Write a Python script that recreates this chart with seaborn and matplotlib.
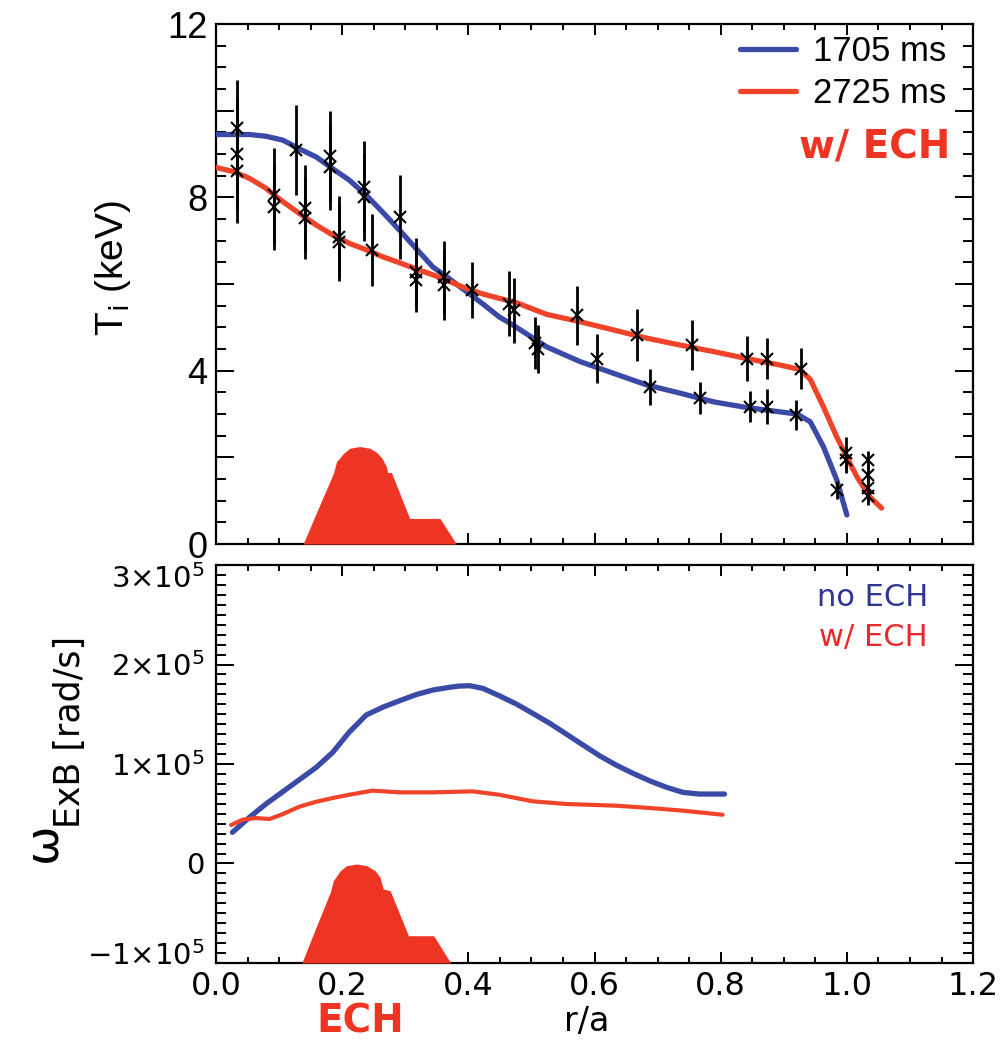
import numpy as np
import pandas as pd
import matplotlib
matplotlib.use("Agg")
import matplotlib.pyplot as plt
import seaborn as sns
from matplotlib.ticker import MultipleLocator, FuncFormatter
from matplotlib.lines import Line2D
from matplotlib.transforms import ScaledTranslation

# ---------------- data ----------------
# Ti profiles (keV) vs r/a
blue_r = [0.0, 0.053, 0.079, 0.106, 0.132, 0.159, 0.185, 0.211, 0.238, 0.264, 0.291, 0.317,
          0.344, 0.37, 0.391, 0.423, 0.449, 0.471, 0.524, 0.577, 0.63, 0.683, 0.736, 0.789,
          0.841, 0.894, 0.921, 0.942, 0.963, 0.984, 1.0]
blue_ti = [9.45, 9.45, 9.41, 9.32, 9.12, 8.93, 8.66, 8.40, 8.05, 7.66, 7.24, 6.82,
           6.39, 6.12, 5.89, 5.54, 5.24, 5.05, 4.55, 4.21, 3.94, 3.67, 3.48, 3.28,
           3.15, 3.05, 3.0, 2.82, 2.24, 1.48, 0.67]
red_r = [0.0, 0.026, 0.053, 0.079, 0.106, 0.132, 0.159, 0.185, 0.211, 0.238, 0.264, 0.291,
         0.317, 0.344, 0.37, 0.396, 0.423, 0.449, 0.476, 0.524, 0.577, 0.63, 0.683, 0.736,
         0.789, 0.841, 0.894, 0.925, 0.942, 0.963, 0.984, 1.0, 1.016, 1.037, 1.055]
red_ti = [8.69, 8.6, 8.44, 8.21, 7.9, 7.63, 7.36, 7.13, 6.94, 6.79, 6.63, 6.49,
          6.35, 6.21, 6.06, 5.9, 5.77, 5.67, 5.57, 5.3, 5.13, 4.94, 4.75, 4.59,
          4.44, 4.28, 4.13, 4.03, 3.8, 3.16, 2.47, 2.0, 1.55, 1.08, 0.83]
series_labels = ["1705 ms", "2725 ms"]

# measured Ti points with error bars
pt_r = [0.033, 0.033, 0.033, 0.092, 0.092, 0.126, 0.141, 0.141, 0.180, 0.180,
        0.195, 0.195, 0.234, 0.234, 0.248, 0.291, 0.317, 0.317, 0.361, 0.361,
        0.405, 0.465, 0.472, 0.505, 0.510, 0.572, 0.604, 0.667, 0.688, 0.754,
        0.767, 0.841, 0.847, 0.873, 0.873, 0.927, 0.920, 0.984, 0.999, 0.999,
        1.034, 1.034, 1.034, 1.034]
pt_ti = [9.6, 9.0, 8.6, 8.05, 7.78, 9.09, 7.75, 7.52, 8.95, 8.71,
         7.09, 6.98, 8.25, 8.0, 6.78, 7.55, 6.28, 6.1, 6.17, 5.98,
         5.86, 5.55, 5.4, 4.65, 4.5, 5.28, 4.28, 4.82, 3.63, 4.59,
         3.36, 4.28, 3.17, 4.28, 3.17, 4.05, 2.98, 1.25, 2.1, 1.95,
         1.95, 1.6, 1.3, 1.1]
pt_err = [1.1, 1.3, 1.2, 1.1, 1.0, 1.03, 1.0, 0.95, 1.05, 1.0,
          0.93, 0.9, 1.05, 1.0, 0.83, 0.97, 0.78, 0.75, 0.83, 0.8,
          0.65, 0.75, 0.75, 0.6, 0.55, 0.68, 0.56, 0.6, 0.42, 0.58,
          0.37, 0.52, 0.35, 0.48, 0.4, 0.48, 0.35, 0.2, 0.38, 0.3,
          0.2, 0.2, 0.25, 0.2]

# ECH deposition shape (top panel, keV units)
ech_top_r = [0.138, 0.162, 0.186, 0.191, 0.202, 0.212, 0.228, 0.244, 0.255, 0.263,
             0.270, 0.272, 0.278, 0.307, 0.355, 0.381]
ech_top_v = [0.0, 0.82, 1.63, 1.90, 2.09, 2.21, 2.25, 2.21, 2.11, 1.98,
             1.79, 1.65, 1.65, 0.59, 0.59, 0.0]
# ECH deposition shape (bottom panel, rad/s units)
ech_bot_r = [0.136, 0.158, 0.181, 0.186, 0.197, 0.207, 0.223, 0.239, 0.252, 0.260,
             0.265, 0.276, 0.305, 0.345, 0.372]
ech_bot_v = [-1.0e5, -0.65e5, -0.29e5, -0.173e5, -0.072e5, -0.022e5, -0.005e5, -0.022e5,
             -0.072e5, -0.139e5, -0.256e5, -0.273e5, -0.726e5, -0.726e5, -1.0e5]

# omega_ExB profiles (rad/s)
w_blue_r = [0.026, 0.053, 0.079, 0.106, 0.132, 0.159, 0.185, 0.211, 0.238, 0.264, 0.291,
            0.317, 0.344, 0.37, 0.385, 0.402, 0.423, 0.449, 0.476, 0.502, 0.529, 0.555, 0.581,
            0.608, 0.634, 0.661, 0.687, 0.714, 0.74, 0.766, 0.806]
w_blue = [31.3e3, 46.4e3, 59.8e3, 72.2e3, 84.2e3, 96.7e3, 111.7e3, 131.9e3, 149.2e3, 157e3,
          163.6e3, 169.7e3, 174.4e3, 177.1e3, 178.3e3, 178.7e3, 176e3, 168.6e3, 160.3e3, 150.9e3,
          140.9e3, 130.2e3, 119.4e3, 108.3e3, 99e3, 90.6e3, 83.2e3, 76.6e3, 71.5e3, 69.8e3, 69.8e3]
w_red_r = [0.024, 0.042, 0.063, 0.085, 0.106, 0.132, 0.159, 0.185, 0.211, 0.248, 0.291,
           0.344, 0.407, 0.449, 0.502, 0.555, 0.634, 0.687, 0.74, 0.803]
w_red = [38.7e3, 44e3, 45.7e3, 44.7e3, 49.7e3, 57.1e3, 62.1e3, 65.8e3, 69.1e3, 73.2e3, 71.5e3,
         71.5e3, 72.5e3, 69.1e3, 62.5e3, 59.8e3, 58.1e3, 55.8e3, 53.1e3, 49e3]
w_labels = ["no ECH", "w/ ECH"]

BLUE = "#3a4aa6"
RED = "#f0442a"
ECHRED = "#ee3524"

# ---------------- style ----------------
sns.set_theme(style="ticks")
plt.rcParams["font.family"] = ["Liberation Sans", "DejaVu Sans"]
plt.rcParams["mathtext.fontset"] = "dejavusans"
plt.rcParams["axes.linewidth"] = 1.6
plt.rcParams["axes.edgecolor"] = "black"
for k in ["text.color", "axes.labelcolor", "xtick.color", "ytick.color",
          "xtick.labelcolor", "ytick.labelcolor"]:
    plt.rcParams[k] = "black"

fig = plt.figure(figsize=(10.02, 10.44), dpi=100)
ax1 = fig.add_axes([0.2156, 0.4789, 0.7555, 0.4981])
ax2 = fig.add_axes([0.2156, 0.0776, 0.7555, 0.3812])

# ---------------- top panel ----------------
df_top = pd.concat([
    pd.DataFrame({"r": blue_r, "Ti": blue_ti, "t": series_labels[0]}),
    pd.DataFrame({"r": red_r, "Ti": red_ti, "t": series_labels[1]}),
])
sns.lineplot(data=df_top, x="r", y="Ti", hue="t", palette=[BLUE, RED], sort=False,
             estimator=None, lw=3.8, ax=ax1, legend=False, zorder=3)
for ln in ax1.lines:
    ln.set_solid_joinstyle("round")
ax1.errorbar(pt_r, pt_ti, yerr=pt_err, fmt="x", color="black", ms=8, mew=1.5,
             elinewidth=2.0, capsize=0, zorder=4)
ax1.fill_between(ech_top_r, 0, ech_top_v, color=ECHRED, lw=0, zorder=5, clip_on=False)

ax1.set_xlim(0, 1.2)
ax1.set_ylim(0, 12)
ax1.xaxis.set_major_locator(MultipleLocator(0.2))
ax1.xaxis.set_minor_locator(MultipleLocator(0.05))
ax1.yaxis.set_major_locator(MultipleLocator(2))
ax1.yaxis.set_minor_locator(MultipleLocator(0.5))
ax1.yaxis.set_major_formatter(FuncFormatter(lambda v, p: f"{int(round(v))}" if round(v) % 4 == 0 else ""))
ax1.tick_params(axis="both", which="both", direction="in", top=True, right=True, width=1.4, color="black")
ax1.tick_params(axis="x", which="major", length=8, labelbottom=False)
ax1.tick_params(axis="x", which="minor", length=4)
ax1.tick_params(axis="y", which="major", length=13, labelsize=26, pad=6)
ax1.tick_params(axis="y", which="minor", length=7)
ax1.set_xlabel("")
ax1.set_ylabel("T$_\\mathrm{i}$ (keV)", fontsize=28, family=["Liberation Sans", "DejaVu Sans"])
ax1.yaxis.set_label_coords(-0.11, 0.53)

handles = [Line2D([], [], color=BLUE, lw=3.8), Line2D([], [], color=RED, lw=3.8)]
ax1.legend(handles, series_labels, loc="upper right", bbox_to_anchor=(0.965, 0.978),
           frameon=False, fontsize=25, handlelength=1.6, handletextpad=0.5,
           labelspacing=0.25, borderpad=0, borderaxespad=0)
ax1.text(0.97, 0.762, "w/ ECH", transform=ax1.transAxes, ha="right", va="center",
         color=ECHRED, fontsize=28, fontweight="bold", family="DejaVu Sans")

# ---------------- bottom panel ----------------
df_bot = pd.concat([
    pd.DataFrame({"r": w_blue_r, "w": w_blue, "c": w_labels[0]}),
    pd.DataFrame({"r": w_red_r, "w": w_red, "c": w_labels[1]}),
])
sns.lineplot(data=df_bot, x="r", y="w", hue="c", palette=[BLUE, RED], sort=False,
             estimator=None, ax=ax2, legend=False, zorder=3)
ax2.lines[0].set_linewidth(3.8)
ax2.lines[1].set_linewidth(3.0)
for ln in ax2.lines:
    ln.set_solid_joinstyle("round")
ax2.fill_between(ech_bot_r, -1e5, ech_bot_v, color=ECHRED, lw=0, zorder=5, clip_on=False)

def wfmt(v, p):
    k = int(round(v / 1e5))
    if k == 0:
        return "0"
    if k < 0:
        return r"$-%d{\times}10^{5}$" % (-k)
    return r"$%d{\times}10^{5}$" % k

ax2.set_xlim(0, 1.2)
ax2.set_ylim(-1e5, 3e5)
ax2.xaxis.set_major_locator(MultipleLocator(0.2))
ax2.xaxis.set_minor_locator(MultipleLocator(0.05))
ax2.xaxis.set_major_formatter(FuncFormatter(lambda v, p: f"{v:.1f}"))
ax2.yaxis.set_major_locator(MultipleLocator(1e5))
ax2.yaxis.set_minor_locator(MultipleLocator(1e4))
ax2.yaxis.set_major_formatter(FuncFormatter(wfmt))
ax2.tick_params(axis="both", which="both", direction="in", top=True, right=True, width=1.4, color="black")
ax2.tick_params(axis="x", which="major", length=8, labelsize=23, pad=6)
ax2.tick_params(axis="x", which="minor", length=4)
ax2.tick_params(axis="y", which="major", length=13, labelsize=21, pad=8)
ax2.tick_params(axis="y", which="minor", length=7)
for lab in ax2.get_xticklabels() + ax2.get_yticklabels():
    lab.set_family("DejaVu Sans")

ax2.set_ylabel("")
ax2.set_xlabel("r/a", fontsize=24, family="DejaVu Sans")
ax2.xaxis.set_label_coords(0.49, -0.148)
ax2.xaxis.label.set_va("center")

# y label: large omega followed by subscript-level "ExB [rad/s]"
fig.text(80 / 1002, 1 - 828 / 1044, "ExB [rad/s]", rotation=90, rotation_mode="anchor",
         ha="left", va="baseline", fontsize=25, family="DejaVu Sans")
fig.text(55 / 1002, 1 - 862 / 1044, "ω", rotation=90, rotation_mode="anchor",
         ha="left", va="baseline", fontsize=34, family="DejaVu Sans")

ax2.text(0.228, -0.146, "ECH", transform=ax2.get_xaxis_transform(), ha="center", va="center",
         color=ECHRED, fontsize=28, fontweight="bold", family="DejaVu Sans")
ax2.text(0.9406, 0.9196, w_labels[0], transform=ax2.transAxes, ha="right", va="center",
         color="#2e3592", fontsize=22, family="DejaVu Sans")
ax2.text(0.9406, 0.819, w_labels[1], transform=ax2.transAxes, ha="right", va="center",
         color="#e8292c", fontsize=22, family="DejaVu Sans")

# nudge the end labels of the bottom y axis inward, as in the reference
fig.canvas.draw()
for tick in ax2.yaxis.get_major_ticks():
    loc = tick.get_loc()
    if abs(loc - 3e5) < 1:
        tick.label1.set_transform(tick.label1.get_transform() +
                                  ScaledTranslation(0, -11 / 100, fig.dpi_scale_trans))
    elif abs(loc + 1e5) < 1:
        tick.label1.set_transform(tick.label1.get_transform() +
                                  ScaledTranslation(0, 10 / 100, fig.dpi_scale_trans))

fig.savefig("out.png", dpi=100)
